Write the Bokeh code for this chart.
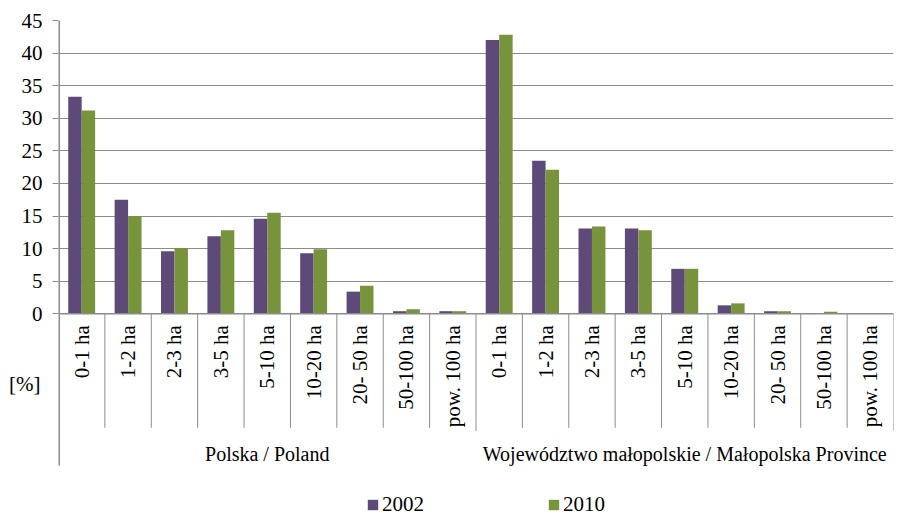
from bokeh.plotting import figure
from bokeh.models import (ColumnDataSource, FactorRange, Range1d, FixedTicker, Span,
                          LinearAxis)
from bokeh.transform import dodge
from bokeh.core.properties import value
from bokeh.embed import file_html
from bokeh.resources import INLINE
import math

# ---------------- data ----------------
regions = ["Polska / Poland", "Województwo małopolskie / Małopolska Province"]
sizes = ["0-1 ha", "1-2 ha", "2-3 ha", "3-5 ha", "5-10 ha", "10-20 ha",
         "20- 50 ha", "50-100 ha", "pow. 100 ha"]
poland_2002 = [33.3, 17.5, 9.6, 11.9, 14.6, 9.3, 3.4, 0.4, 0.4]
poland_2010 = [31.2, 15.0, 10.1, 12.8, 15.5, 9.9, 4.3, 0.7, 0.4]
malopolska_2002 = [42.0, 23.5, 13.1, 13.1, 6.9, 1.3, 0.4, 0.1, 0.03]
malopolska_2010 = [42.8, 22.1, 13.4, 12.8, 6.9, 1.6, 0.4, 0.3, 0.03]
years = ["2002", "2010"]
y_ticks = [0, 5, 10, 15, 20, 25, 30, 35, 40, 45]
unit_label = "[%]"

# ---------------- styling ----------------
FONT = "Liberation Serif"
FS = "21px"
GRID = "#8c8c8c"
C2002 = "#5D4A79"
C2010 = "#77933C"
W, H = 902, 515
FRAME_TOP, FRAME_LEFT, FRAME_RIGHT = 20, 58, 893
ZERO_PX = 313.3
AXIS_BOTTOM_PX = 465
PX_PER_UNIT = (ZERO_PX - FRAME_TOP) / 45.0   # pixel height of one percent


def px_below(px):
    """Convert pixels below the zero line into data units."""
    return -px / PX_PER_UNIT


factors = [(r, s) for r in regions for s in sizes]
source = ColumnDataSource(dict(
    x=factors,
    y2002=poland_2002 + malopolska_2002,
    y2010=poland_2010 + malopolska_2010,
))

p = figure(
    x_range=FactorRange(*factors, group_padding=0, factor_padding=0, range_padding=0),
    y_range=Range1d(px_below(H - ZERO_PX), 45),
    width=W, height=H,
    output_backend="svg", toolbar_location=None,
    x_axis_location=None,
    min_border_left=FRAME_LEFT, min_border_right=W - FRAME_RIGHT,
    min_border_top=FRAME_TOP, min_border_bottom=0,
)
p.outline_line_color = None
p.background_fill_color = "white"
p.border_fill_color = "white"

bw = 0.29
p.vbar(x=dodge("x", -bw / 2, range=p.x_range), top="y2002", width=bw, source=source,
       fill_color=C2002, line_color=None, legend_label=years[0])
p.vbar(x=dodge("x", bw / 2, range=p.x_range), top="y2010", width=bw, source=source,
       fill_color=C2010, line_color=None, legend_label=years[1])

# y axis / grid
p.yaxis.ticker = FixedTicker(ticks=y_ticks)
p.ygrid.ticker = FixedTicker(ticks=y_ticks)
p.xgrid.visible = False
p.ygrid.grid_line_color = GRID
p.ygrid.grid_line_width = 1
p.yaxis.axis_line_color = None
p.yaxis.major_tick_line_color = GRID
p.yaxis.major_tick_line_width = 1
p.yaxis.major_tick_in = 0
p.yaxis.major_tick_out = 6
p.yaxis.minor_tick_line_color = None
p.yaxis.major_label_standoff = 10
p.yaxis.major_label_text_font = FONT
p.yaxis.major_label_text_font_size = FS
p.yaxis.major_label_text_color = "black"

# unit label "[%]" as a second, line-less left axis
unit_y = -10.75
unit_axis = LinearAxis(ticker=FixedTicker(ticks=[unit_y]),
                       major_label_overrides={unit_y: unit_label},
                       axis_line_color=None, major_tick_line_color=None,
                       minor_tick_line_color=None, major_tick_out=0, major_tick_in=0,
                       major_label_standoff=-22,
                       major_label_text_font=FONT, major_label_text_font_size=FS,
                       major_label_text_color="black")
p.add_layout(unit_axis, "left")

# left vertical line (value axis line, running down through the category area)
left_src = ColumnDataSource(dict(x=[factors[0]], top=[45], bottom=[px_below(AXIS_BOTTOM_PX - ZERO_PX)]))
p.segment(x0=dodge("x", -0.5, range=p.x_range), y0="top",
          x1=dodge("x", -0.5, range=p.x_range), y1="bottom",
          source=left_src, line_color=GRID, line_width=3)

# zero line (category axis line)
p.add_layout(Span(location=0, dimension="width", line_color=GRID, line_width=1.5))

# category separators
last_idx = {len(sizes) - 1, 2 * len(sizes) - 1}
sep_src = ColumnDataSource(dict(
    x=factors,
    bottom=[px_below(117.0) if i in last_idx else px_below(114.0) for i in range(len(factors))],
))
p.segment(x0=dodge("x", 0.5, range=p.x_range), y0=0,
          x1=dodge("x", 0.5, range=p.x_range), y1="bottom",
          source=sep_src, line_color=GRID, line_width=1)

# inner category labels (rotated)
lab_src = ColumnDataSource(dict(x=factors, y=[px_below(11.5)] * len(factors),
                                t=[f[1] for f in factors]))
p.text(x="x", y="y", text="t", source=lab_src, angle=math.pi / 2,
       text_align="right", text_baseline="middle",
       text_font=value(FONT), text_font_size=FS, text_color="black")

# group labels
grp_src = ColumnDataSource(dict(x=regions, y=[px_below(140.0)] * len(regions), t=regions))
p.text(x="x", y="y", text="t", source=grp_src,
       text_align="center", text_baseline="middle",
       text_font=value(FONT), text_font_size="20px", text_color="black")

# legend
lg = p.legend[0]
lg.orientation = "horizontal"
lg.location = (308, -2)
lg.glyph_width = 13
lg.glyph_height = 13
lg.label_standoff = 3
lg.spacing = 123
lg.padding = 0
lg.margin = 0
lg.border_line_color = None
lg.background_fill_alpha = 0
lg.label_text_font = FONT
lg.label_text_font_size = FS
lg.label_text_color = "black"

open("out.html", "w").write(file_html(p, INLINE))
